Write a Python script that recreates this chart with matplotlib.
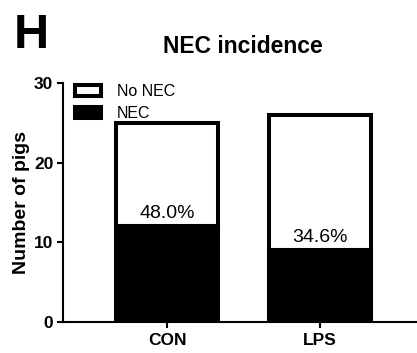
import matplotlib
matplotlib.use("Agg")
import matplotlib.pyplot as plt
from matplotlib.patches import Patch

plt.rcParams['font.family'] = ['Liberation Sans', 'DejaVu Sans']

groups = ["CON", "LPS"]
totals = [25, 26]
nec = [12, 9]
pct_labels = ["48.0%", "34.6%"]
yticks = [0, 10, 20, 30]

no_nec = [t - n for t, n in zip(totals, nec)]

fig = plt.figure(figsize=(4.17, 3.53), dpi=100)
W, H = 417, 353
ax = fig.add_axes([63 / W, 1 - 322 / H, 1 - 63 / W, (322 - 83) / H])

x = list(range(len(groups)))
bw = 0.667
ax.bar(x, nec, width=bw, color='black', edgecolor='black', linewidth=2.9, zorder=3)
ax.bar(x, no_nec, bottom=nec, width=bw, color='white', edgecolor='black', linewidth=2.9, zorder=2)

for xi, n, lab in zip(x, nec, pct_labels):
    ax.annotate(lab, (xi, n), xytext=(0, 3), textcoords='offset points',
                ha='center', va='bottom', fontsize=14, zorder=5)

ax.set_xlim(-0.68, 1.634)
ax.set_ylim(0, 30)
ax.set_yticks(yticks)
ax.set_xticks(x)
ax.set_xticklabels(groups)
for s in ['top', 'right']:
    ax.spines[s].set_visible(False)
for s in ['left', 'bottom']:
    ax.spines[s].set_linewidth(1.5)
ax.tick_params(axis='both', width=1.5, length=4, labelsize=12.5)
ax.tick_params(axis='y', pad=3)
ax.tick_params(axis='x', pad=4)
for lbl in ax.get_xticklabels() + ax.get_yticklabels():
    lbl.set_fontweight('bold')

ax.set_ylabel("Number of pigs", fontsize=14, fontweight='bold', labelpad=3)

handles = [Patch(facecolor='white', edgecolor='black', linewidth=2.9),
           Patch(facecolor='black', edgecolor='black', linewidth=2.9)]
ax.legend(handles, ["No NEC", "NEC"], loc='upper left', frameon=False,
          bbox_to_anchor=(12 / 354, 0.995), borderaxespad=0, borderpad=0,
          fontsize=11.5, handlelength=1.6, handleheight=0.7,
          handletextpad=1.0, labelspacing=0.42)

fig.text(243 / W, 1 - 53 / H, "NEC incidence", ha='center', va='baseline',
         fontsize=16.5, fontweight='bold')
fig.text(14 / W, 1 - 48 / H, "H", ha='left', va='baseline',
         fontsize=35, fontweight='bold')

fig.savefig("out.png", dpi=100)
